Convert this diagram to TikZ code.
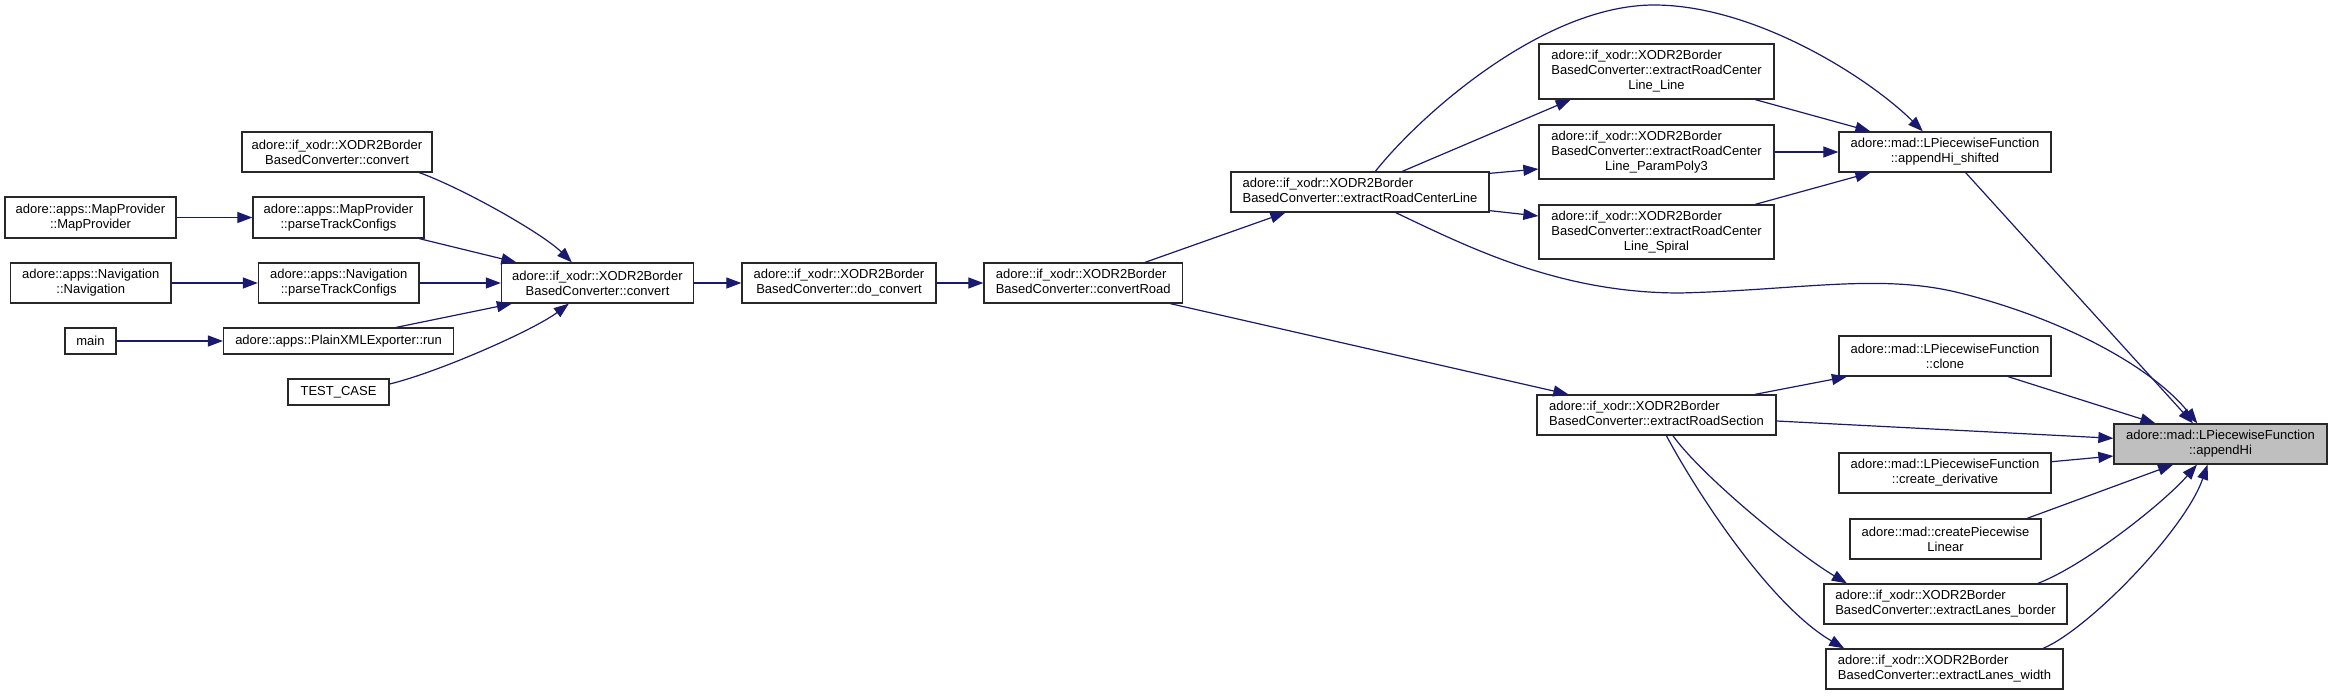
\documentclass[tikz,border=0pt]{standalone}
\usepackage{fontspec}
\setmainfont{Liberation Sans}
\usetikzlibrary{arrows.meta,calc}
\definecolor{navy}{RGB}{25,25,112}
\definecolor{hlgray}{RGB}{191,191,191}
\definecolor{bord}{RGB}{40,40,40}
\newcommand{\lft}[1]{\begin{tabular}{@{}l@{}}#1\end{tabular}}
\newcommand{\mcc}[1]{\multicolumn{1}{@{}c@{}}{#1}}
\tikzset{
  box/.style={draw=bord, line width=1.3pt, fill=white, inner sep=0pt, align=center,
    font=\fontsize{13}{15}\selectfont},
  hl/.style={box, fill=hlgray},
  edge/.style={draw=navy, line width=1.2pt, -{Triangle[length=15pt,width=11pt]}},
}
\begin{document}
\begin{tikzpicture}[x=1pt,y=-1pt]
\useasboundingbox (0,0) rectangle (2332,696);

% column 1
\node[box,minimum width=171,minimum height=41] (mpCtor) at (90.5,217.5) {adore::apps::MapProvider\\::MapProvider};
\node[box,minimum width=160.5,minimum height=40] (navCtor) at (90.75,283) {adore::apps::Navigation\\::Navigation};
\node[box,minimum width=51,minimum height=26] (main) at (90.5,341) {main};

% column 2
\node[box,minimum width=190,minimum height=40] (convTop) at (337,152) {adore::if\_xodr::XODR2Border\\BasedConverter::convert};
\node[box,minimum width=171,minimum height=41] (mpParse) at (338.5,217.5) {adore::apps::MapProvider\\::parseTrackConfigs};
\node[box,minimum width=160.5,minimum height=40] (navParse) at (338.75,283) {adore::apps::Navigation\\::parseTrackConfigs};
\node[box,minimum width=230,minimum height=26] (run) at (338.6,341) {adore::apps::PlainXMLExporter::run};
\node[box,minimum width=101,minimum height=26] (testcase) at (338.5,392) {TEST\_CASE};

% chain
\node[box,minimum width=192,minimum height=40] (convert) at (597.5,283) {adore::if\_xodr::XODR2Border\\BasedConverter::convert};
\node[box,minimum width=194,minimum height=40] (doConvert) at (839,283) {adore::if\_xodr::XODR2Border\\BasedConverter::do\_convert};
\node[box,minimum width=198.5,minimum height=40] (convertRoad) at (1083.25,283) {\lft{adore::if\_xodr::XODR2Border\\BasedConverter::convertRoad}};
\node[box,minimum width=258,minimum height=40] (eRCL) at (1360,192) {\lft{adore::if\_xodr::XODR2Border\\BasedConverter::extractRoadCenterLine}};

% centre-line column
\node[box,minimum width=235,minimum height=55] (cLine) at (1656.5,71.5) {\lft{adore::if\_xodr::XODR2Border\\BasedConverter::extractRoadCenter\\\mcc{Line\_Line}}};
\node[box,minimum width=235,minimum height=54] (cPoly) at (1656.5,152) {\lft{adore::if\_xodr::XODR2Border\\BasedConverter::extractRoadCenter\\\mcc{Line\_ParamPoly3}}};
\node[box,minimum width=235,minimum height=54] (cSpiral) at (1656.5,232) {\lft{adore::if\_xodr::XODR2Border\\BasedConverter::extractRoadCenter\\\mcc{Line\_Spiral}}};
\node[box,minimum width=239,minimum height=40] (eRS) at (1656.5,415) {\lft{adore::if\_xodr::XODR2Border\\BasedConverter::extractRoadSection}};

% LPiecewise column
\node[box,minimum width=212,minimum height=40] (shifted) at (1945,152) {adore::mad::LPiecewiseFunction\\::appendHi\_shifted};
\node[box,minimum width=212,minimum height=40] (clone) at (1945,356) {adore::mad::LPiecewiseFunction\\::clone};
\node[box,minimum width=212,minimum height=40] (deriv) at (1945,473) {adore::mad::LPiecewiseFunction\\::create\_derivative};
\node[box,minimum width=191,minimum height=40] (pwLinear) at (1945.5,539) {adore::mad::createPiecewise\\Linear};
\node[box,minimum width=243,minimum height=40] (lBorder) at (1945.5,604) {\lft{adore::if\_xodr::XODR2Border\\BasedConverter::extractLanes\_border}};
\node[box,minimum width=237,minimum height=40] (lWidth) at (1944.5,669) {\lft{adore::if\_xodr::XODR2Border\\BasedConverter::extractLanes\_width}};

% target
\node[hl,minimum width=213,minimum height=40] (appendHi) at (2220.5,444) {adore::mad::LPiecewiseFunction\\::appendHi};

% edges, left part
\draw[edge] (mpCtor.east) -- (mpParse.west);
\draw[edge] (navCtor.east) -- (navParse.west);
\draw[edge] (main.east) -- (run.west);
\draw[edge] ($(convTop.south west)+(178,0)$) .. controls (462,188) and (542,233) .. ($(convert.north west)+(71,0)$);
\draw[edge] ($(mpParse.south west)+(167,0)$) -- ($(convert.north west)+(15.5,0)$);
\draw[edge] (navParse.east) -- (convert.west);
\draw[edge] ($(run.north west)+(173.4,0)$) -- ($(convert.south west)+(11,0)$);
\draw[edge] ($(testcase.east)+(0,-8)$) .. controls (439,372) and (534,330) .. ($(convert.south west)+(68,0)$);
\draw[edge] (convert.east) -- (doConvert.west);
\draw[edge] (doConvert.east) -- (convertRoad.west);
\draw[edge] ($(convertRoad.north west)+(161.7,0)$) -- ($(eRCL.south west)+(55,0)$);
\draw[edge] ($(convertRoad.south west)+(187,0)$) -- ($(eRS.north west)+(32,0)$);

% edges from extractRoadCenterLine
\draw[edge] ($(eRCL.north west)+(172,0)$) -- ($(cLine.south west)+(32.4,0)$);
\draw[edge] ($(eRCL.north east)+(0,2)$) -- ($(cPoly.west)+(0,17)$);
\draw[edge] ($(eRCL.south east)+(0,-2)$) -- ($(cSpiral.west)+(0,-16)$);
\draw[edge] ($(eRCL.north west)+(145,0)$) .. controls (1421,114) and (1544,5) .. (1654,5)
   .. controls (1754,5) and (1868,77) .. ($(shifted.north west)+(84.5,0)$);
\draw[edge] ($(eRCL.south west)+(165.4,0)$) .. controls (1470,248) and (1560,293) .. (1680,293)
   .. controls (1800,290) and (1880,273) .. (1960,293)
   .. controls (2060,318) and (2150,365) .. ($(appendHi.north west)+(84,0)$);

% into appendHi_shifted
\draw[edge] ($(cLine.south west)+(217,0)$) -- ($(shifted.north west)+(32,0)$);
\draw[edge] (cPoly.east) -- (shifted.west);
\draw[edge] ($(cSpiral.north west)+(217,0)$) -- ($(shifted.south west)+(32,0)$);

% from extractRoadSection
\draw[edge] ($(eRS.north west)+(218.7,0)$) -- ($(clone.south west)+(8.5,0)$);
\draw[edge] ($(eRS.east)+(0,6)$) -- ($(appendHi.west)+(0,-5.7)$);
\draw[edge] ($(eRS.south west)+(136.5,0)$) .. controls (1703.5,478) and (1797.5,554) .. ($(lBorder.north west)+(23.5,0)$);
\draw[edge] ($(eRS.south west)+(130,0)$) .. controls (1697,493) and (1770,605) .. ($(lWidth.north west)+(18.8,0)$);

% into appendHi
\draw[edge] ($(shifted.south west)+(127.3,0)$) -- ($(appendHi.north west)+(79.6,0)$);
\draw[edge] ($(clone.south west)+(169.7,0)$) -- ($(appendHi.north west)+(42,0)$);
\draw[edge] ($(deriv.east)+(0,-11.3)$) -- ($(appendHi.west)+(0,12)$);
\draw[edge] ($(pwLinear.north west)+(177.8,0)$) -- ($(appendHi.south west)+(59.7,0)$);
\draw[edge] ($(lBorder.north west)+(214.5,0)$) .. controls (2083.5,566) and (2162.6,504) .. ($(appendHi.south west)+(83.6,0)$);
\draw[edge] ($(lWidth.north west)+(217.8,0)$) .. controls (2088.8,629) and (2185,530) .. ($(appendHi.south west)+(94.2,0)$);
\end{tikzpicture}
\end{document}
